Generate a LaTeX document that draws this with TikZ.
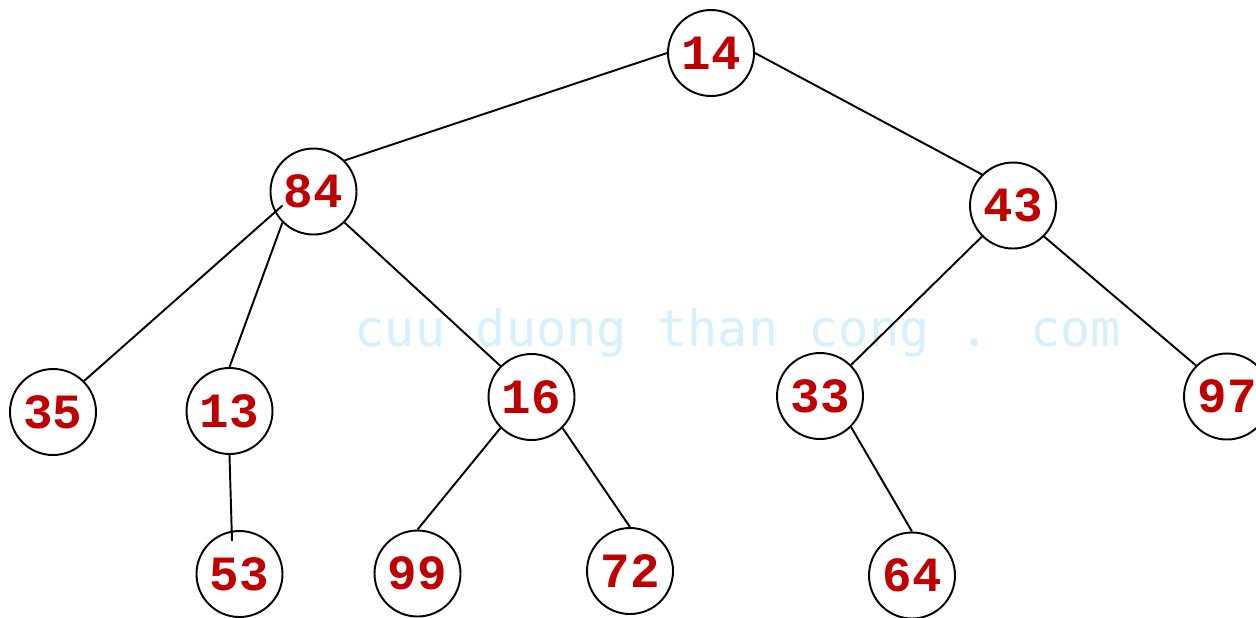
\documentclass[tikz,border=0pt]{standalone}
\usepackage{fontspec}
\setmonofont{Liberation Mono}
\newfontfamily\markfont{DejaVu Sans Mono}
\usepackage{xcolor}
\usepackage{tikz}
\usetikzlibrary{positioning}
\definecolor{Ink}{HTML}{000000}
\definecolor{Key}{HTML}{C00000}
\definecolor{Mark}{HTML}{D6F0FD}

\begin{document}
\begin{tikzpicture}[
  key/.style={circle, draw=Ink, line width=1.1pt, minimum size=1.72cm, inner sep=0pt, fill=none,
    text=Key, font=\ttfamily\bfseries\fontsize{28}{28}\selectfont},
  edge/.style={draw=Ink, line width=1.1pt},
  watermark/.style={text=Mark, font=\markfont\fontsize{28.6}{28.6}\selectfont, anchor=base, inner sep=0pt}
]
\useasboundingbox (0,0) rectangle (25.12,-12.34);
\node[watermark] (mark) at (14.76,-6.92) {cuu duong than cong . com};

\node[key] (n14) at (14.22,-1.06) {14};
\node[key] (n84) at (6.27,-3.83) {84};
\node[key] (n43) at (20.26,-4.11) {43};
\node[key] (n35) at (1.06,-8.24) {35};
\node[key] (n13) at (4.59,-8.22) {13};
\node[key] (n16) at (10.63,-7.94) {16};
\node[key] (n33) at (16.40,-7.92) {33};
\node[key] (n97) at (24.54,-7.93) {97};
\node[key] (n53) at (4.79,-11.48) {53};
\node[key] (n99) at (8.35,-11.47) {99};
\node[key] (n72) at (12.60,-11.42) {72};
\node[key] (n64) at (18.24,-11.51) {64};

\draw[edge] (n14.west) -- (n84.north east);
\draw[edge] (n14.east) -- (n43.north west);
\draw[edge] ([shift={(-0.62,-0.28)}]n84.center) -- (n35.north east);
\draw[edge] (n84.south west) -- (n13.north);
\draw[edge] (n84.south east) -- (n16.north west);
\draw[edge] (n43.south west) -- (n33.north east);
\draw[edge] (n43.south east) -- (n97.north west);
\draw[edge] (n13.south) -- ([shift={(-0.15,0.66)}]n53.center);
\draw[edge] (n16.south west) -- (n99.north);
\draw[edge] (n16.south east) -- (n72.north);
\draw[edge] (n33.south east) -- (n64.north);
\end{tikzpicture}
\end{document}
